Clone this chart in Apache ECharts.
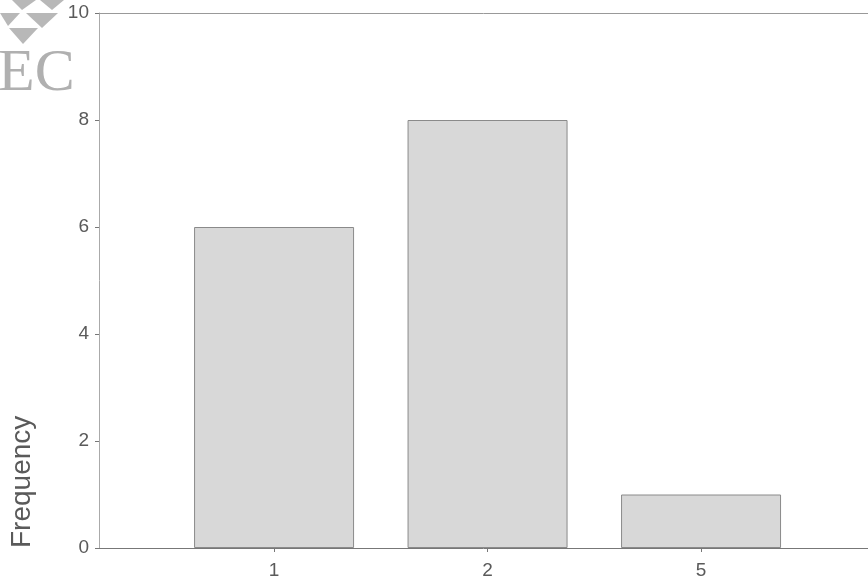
<!DOCTYPE html>
<html>
<head>
<meta charset="utf-8">
<script src="https://cdn.jsdelivr.net/npm/echarts@6/dist/echarts.min.js"></script>
<style>html,body{margin:0;padding:0;background:#fff}#c{width:868px;height:583px}</style>
</head>
<body>
<div id="c"></div>
<script>
var categories = ['1', '2', '5'];
var frequencies = [6, 8, 1];
var yTicks = [0, 2, 4, 6, 8, 10];

var chart = echarts.init(document.getElementById('c'));
var barData = categories.map(function (c, i) { return [i, frequencies[i]]; });
var labelFont = { color: '#5a5a5a', fontSize: 19, fontFamily: 'Liberation Sans' };
chart.setOption({
  animation: false,
  backgroundColor: '#fff',
  grid: { left: 99, top: 13, right: 0, height: 535 },
  xAxis: [{
    type: 'value', min: -0.82, max: 2.782,
    splitLine: { show: false },
    axisLine: { onZero: false, lineStyle: { color: '#777' } },
    axisTick: { show: true, customValues: [0, 1, 2], length: 4, lineStyle: { color: '#777' } },
    axisLabel: Object.assign({ customValues: [0, 1, 2], formatter: function (v) { return categories[Math.round(v)]; }, margin: 13 }, labelFont)
  }, {
    type: 'value', position: 'top', min: -0.82, max: 2.782,
    splitLine: { show: false },
    axisLine: { show: true, onZero: false, lineStyle: { color: '#999' } },
    axisTick: { show: false }, axisLabel: { show: false }
  }],
  yAxis: {
    type: 'value', min: 0, max: 10, interval: 2,
    splitLine: { show: false },
    axisLine: { show: true, onZero: false, lineStyle: { color: '#aaa' } },
    axisTick: { show: true, length: 4, lineStyle: { color: '#777' } },
    axisLabel: Object.assign({ margin: 10 }, labelFont)
  },
  graphic: [
    { type: 'text', x: 8, y: 548, rotation: Math.PI / 2, style: { text: 'Frequency', fill: '#5a5a5a', font: '28px "Liberation Sans"', textVerticalAlign: 'top' } },
    { type: 'text', left: -2, top: 44, style: { text: 'EC', fill: '#b0b0b0', font: '60px "Liberation Serif"' } },
    { type: 'polygon', shape: { points: [[9, 28], [38, 28], [23, 44]] }, style: { fill: '#b8b8b8' } },
    { type: 'polygon', shape: { points: [[26, 13], [58, 13], [42, 28]] }, style: { fill: '#b8b8b8' } },
    { type: 'polygon', shape: { points: [[0, 13], [20, 13], [8, 26]] }, style: { fill: '#b8b8b8' } },
    { type: 'polygon', shape: { points: [[12, 0], [36, 0], [22, 10]] }, style: { fill: '#b8b8b8' } },
    { type: 'polygon', shape: { points: [[40, 0], [64, 0], [52, 10]] }, style: { fill: '#b8b8b8' } }
  ],
  series: [{
    type: 'bar',
    data: barData,
    barWidth: 160,
    itemStyle: { color: '#d8d8d8', borderColor: '#8a8a8a', borderWidth: 1 }
  }]
});
</script>
</body>
</html>
